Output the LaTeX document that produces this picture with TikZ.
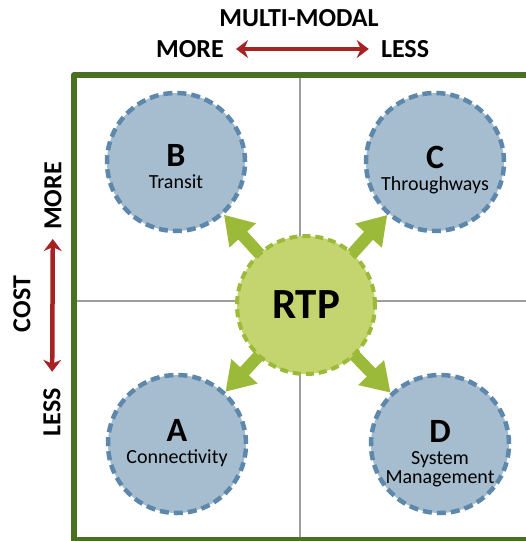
\documentclass[tikz,border=0pt]{standalone}
\usepackage{fontspec}
\setmainfont{Carlito}
\usetikzlibrary{arrows.meta}
\definecolor{framegreen}{RGB}{74,112,35}
\definecolor{goalfill}{RGB}{166,189,207}
\definecolor{goalline}{RGB}{94,136,171}
\definecolor{rtpfill}{RGB}{196,213,112}
\definecolor{rtpline}{RGB}{155,186,58}
\definecolor{axisred}{RGB}{165,35,35}
\newcommand{\goalletter}[1]{{\fontsize{34}{34}\selectfont\bfseries #1}\\[3pt]}
\begin{document}
\begin{tikzpicture}[x=1pt,y=-1pt,line join=round,
	goal/.style={circle,minimum size=138pt,inner sep=0pt,fill=goalfill,draw=goalline,line width=4.5pt,dash pattern=on 9pt off 5pt},
	goaltext/.style={align=center,inner sep=0pt,font=\fontsize{20}{19}\selectfont},
	hub/.style={circle,minimum size=138pt,inner sep=0pt,fill=rtpfill,draw=rtpline,line width=4pt,dash pattern=on 8pt off 5pt,font=\fontsize{43}{43}\selectfont\bfseries},
	push/.style={line width=12pt,draw=rtpline,-{Triangle[width=34pt,length=28pt]}},
	axis/.style={line width=4.5pt,draw=axisred,{Stealth[length=12pt,width=18pt]}-{Stealth[length=12pt,width=18pt]}},
	lbl/.style={font=\fontsize{26}{26}\selectfont\bfseries,inner sep=0pt}]
	
	\def \W{526};
	\def \H{541};
	\useasboundingbox (0,0) rectangle (\W,\H);
	\clip (0,0) rectangle (\W,\H);
	
	% quadrants
	\draw[line width=2.5pt,draw=black!38] (300,78) -- (300,537);
	\draw[line width=2.5pt,draw=black!38] (77,301) -- (\W,301);
	\draw[line width=6pt,draw=framegreen] (\W,75) -| (74,540) -- (\W,540);
	
	% axes
	\node[lbl] (mm) at (299,18) {MULTI-MODAL};
	\node[lbl] (xmore) at (190,49) {MORE};
	\node[lbl] (xless) at (405,49) {LESS};
	\node[lbl,rotate=90] (cost) at (22,304) {COST};
	\node[lbl,rotate=90] (ymore) at (53,196) {MORE};
	\node[lbl,rotate=90] (yless) at (52,412) {LESS};
	\draw[axis,shorten <=12pt,shorten >=12pt] (xmore) -- (xless);
	\draw[axis,shorten <=9pt,shorten >=16pt] (ymore) -- (yless);
	
	% goals
	\node[goal,label={[goaltext,yshift=-5pt]center:{\goalletter{B}Transit}}] (b) at (176,162) {};
	\node[goal,label={[goaltext,yshift=-8pt]center:{\goalletter{C}Throughways}}] (c) at (435,162) {};
	\node[goal,label={[goaltext,yshift=1pt]center:{\goalletter{A}Connectivity}}] (a) at (177,444) {};
	\node[goal,label={[goaltext,yshift=-10pt]center:{\goalletter{D}System\\Management}}] (d) at (440,444) {};
	
	\coordinate (hubc) at (306,305);
	\foreach \g in {a,b,c,d}
	{
		\draw[push] (hubc) -- (\g);
	}
	\node[hub] (rtp) at (hubc) {RTP};
\end{tikzpicture}
\end{document}
